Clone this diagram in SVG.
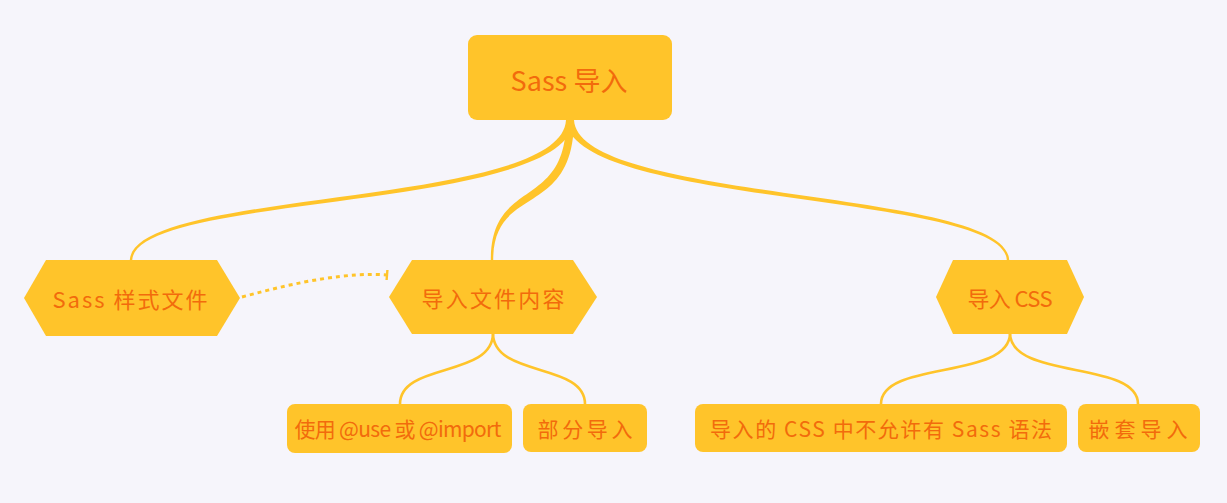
<svg xmlns="http://www.w3.org/2000/svg" width="1227" height="503" viewBox="0 0 1227 503">
<defs>
<style>
.bg{fill:#F6F5FB}
.box{fill:#FFC42A}
.conn{fill:#FFC42A;stroke:none}
.thin{fill:none;stroke:#FFC42A;stroke-width:2.6;stroke-linecap:round}
.dash{fill:none;stroke:#FFC42A;stroke-width:3;stroke-dasharray:4 4}
.t{font-family:"Noto Sans CJK SC","Liberation Sans",sans-serif;fill:#F26B0C;text-anchor:middle;dominant-baseline:central}
.t1{font-size:27px}
.t2{font-size:22px}
.t3{font-size:21px}
</style>
<marker id="bar" viewBox="0 0 4 12" refX="2" refY="6" markerWidth="4" markerHeight="12" markerUnits="userSpaceOnUse" orient="auto">
<line x1="2" y1="1" x2="2" y2="11" stroke="#FFC42A" stroke-width="2.4"/>
</marker>
</defs>
<rect class="bg" x="0" y="0" width="1227" height="503"/>
<g id="connectors">
<path class="conn" d="M574,120 C568.3,212.2 136.2,192.2 132.2,260 L129.8,260 C133.8,187.8 561.7,207.8 566,120 Z"/>
<path class="conn" d="M574,120 C573.5,219.3 493.2,183.3 493.2,260 L490.8,260 C490.8,176.7 566.5,210.7 566,120 Z"/>
<path class="conn" d="M574,120 C578.3,202.8 1006.2,187.8 1009.2,260 L1006.8,260 C1003.8,192.2 571.7,207.2 566,120 Z"/>
<path class="thin" d="M493,333 C493,378 400,362 400,404"/>
<path class="thin" d="M493,333 C493,378 585,362 585,404"/>
<path class="thin" d="M1010,333 C1010,380 881,360 881,404"/>
<path class="thin" d="M1010,333 C1010,380 1138,360 1138,404"/>
<path class="dash" d="M242,297 C300,281 350,272 387,275" marker-end="url(#bar)"/>
</g>
<g id="root">
<rect class="box" x="468" y="35" width="204" height="85" rx="9"/>
<text class="t t1" x="569" y="79" textLength="117" lengthAdjust="spacing">Sass 导入</text>
</g>
<g id="sass-files">
<polygon class="box" points="24,298 46,260 217,260 240,298 217,336 46,336"/>
<text class="t t2" x="130" y="298" textLength="155" lengthAdjust="spacing">Sass 样式文件</text>
</g>
<g id="import-content">
<polygon class="box" points="389,297 412,260 573,260 597,297 573,334 412,334"/>
<text class="t t2" x="493" y="297" textLength="143" lengthAdjust="spacing">导入文件内容</text>
</g>
<g id="import-css">
<polygon class="box" points="936,297 953,260 1067,260 1084,297 1067,334 953,334"/>
<text class="t t2" x="1010" y="297" textLength="85" lengthAdjust="spacing">导入 CSS</text>
</g>
<g id="use-import">
<rect class="box" x="287" y="404" width="225" height="49" rx="8"/>
<text class="t t3" x="398" y="428" textLength="207" lengthAdjust="spacing">使用 @use 或 @import</text>
</g>
<g id="partial">
<rect class="box" x="523" y="404" width="124" height="48" rx="8"/>
<text class="t t3" x="585" y="428" textLength="95" lengthAdjust="spacing">部分导入</text>
</g>
<g id="css-no-sass">
<rect class="box" x="695" y="404" width="372" height="48" rx="8"/>
<text class="t t3" x="881" y="428" textLength="342" lengthAdjust="spacing">导入的 CSS 中不允许有 Sass 语法</text>
</g>
<g id="nested">
<rect class="box" x="1078" y="404" width="122" height="48" rx="8"/>
<text class="t t3" x="1138" y="428" textLength="99" lengthAdjust="spacing">嵌套导入</text>
</g>
</svg>
